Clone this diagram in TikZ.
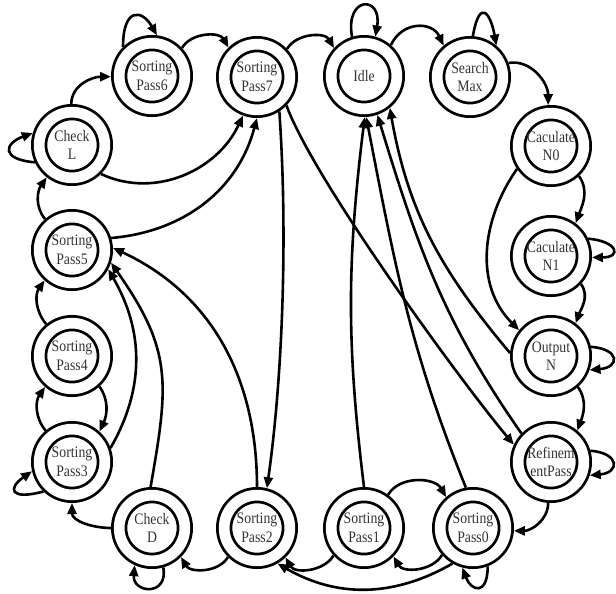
\documentclass[tikz,border=0pt]{standalone}
\usepackage{fontspec}
\setmainfont{Liberation Serif}[FakeStretch=0.86]
\usetikzlibrary{arrows.meta}
\tikzset{
  state/.style={circle, draw, line width=2.8pt, double, double distance=10.7pt,
    minimum size=65.7pt, inner sep=0pt, outer sep=8.15pt, align=center,
    font=\fontsize{16}{18.5}\selectfont, text=black!80},
  edge/.style={line width=2.6pt, -{Triangle[length=11pt,width=9pt]}}
}
\begin{document}
\begin{tikzpicture}[x=1pt,y=1pt]
\path[use as bounding box] (0,0) rectangle (616,-594);
\node[state] (chkl) at (72,-145) {Check\\L};
\node[state] (p6) at (152,-76) {Sorting\\Pass6};
\node[state] (p7) at (257,-77) {Sorting\\Pass7};
\node[state] (idle) at (364,-76) {Idle};
\node[state] (smax) at (470,-77) {Search\\Max};
\node[state] (n0) at (551,-146) {Caculate\\N0};
\node[state] (n1) at (551,-256) {Caculate\\N1};
\node[state] (outn) at (551,-356) {Output\\N};
\node[state] (ref) at (551,-462) {Refinem\\entPass};
\node[state] (p0) at (473,-528) {Sorting\\Pass0};
\node[state] (p1) at (364,-528) {Sorting\\Pass1};
\node[state] (p2) at (257,-528) {Sorting\\Pass2};
\node[state] (chkd) at (152,-528) {Check\\D};
\node[state] (p3) at (72,-462) {Sorting\\Pass3};
\node[state] (p4) at (72,-356) {Sorting\\Pass4};
\node[state] (p5) at (72,-250) {Sorting\\Pass5};

% self loops
\draw[edge] (p6.135) .. controls +(90:40) and +(120:30) .. (p6.83);
\draw[edge] (idle.107) .. controls +(100:42) and +(80:42) .. (idle.74);
\draw[edge] (smax.86) .. controls +(80:40) and +(100:32) .. (smax.50);
\draw[edge] (chkl.205) .. controls +(175:35) and +(200:30) .. (chkl.163);
\draw[edge] (p3.226) .. controls +(195:35) and +(215:30) .. (p3.193);
\draw[edge] (chkd.-74) .. controls +(-80:30) and +(-95:28) .. (chkd.-115);
\draw[edge] (p0.-69) .. controls +(-90:30) and +(-70:25) .. (p0.-105);
\draw[edge] (n1.25) .. controls +(-5:30) and +(0:30) .. (n1.-2);
\draw[edge] (outn.13) .. controls +(-5:30) and +(5:30) .. (outn.-20);
\draw[edge] (ref.16) .. controls +(-5:30) and +(5:30) .. (ref.-19);

% top row
\draw[edge] (chkl.91) to[out=90,in=180] (p6.181);
\draw[edge] (p6.43) to[out=60,in=120] (p7.134);
\draw[edge] (p7.43) to[out=60,in=120] (idle.137);
\draw[edge] (idle.49) to[out=65,in=115,looseness=1.3] (smax.130);
\draw[edge] (smax.20) to[out=10,in=90] (n0.94);

% right column
\draw[edge] (n0.-47) to[out=-55,in=70] (n1.53);
\draw[edge] (n1.-43) to[out=-55,in=70] (outn.53);
\draw[edge] (outn.-49) to[out=-55,in=70] (ref.50);
\draw[edge] (n0.214) to[out=235,in=135] (outn.141);
\draw[edge] (ref.266) to[out=-90,in=0] (p0.-4);

% bottom row
\draw[edge] (p0.221) to[out=-120,in=-60] (p1.-44);
\draw[edge] (p1.222) to[out=-120,in=-60] (p2.-46);
\draw[edge] (p2.225) to[out=-120,in=-60] (chkd.-45);
\draw[edge] (p0.-120) to[out=-150,in=-30] (p2.-60);
\draw[edge] (p1.54) to[out=60,in=120] (p0.131);
\draw[edge] (chkd.180) to[out=180,in=-90] (p3.-90);

% left column
\draw[edge] (p5.131) to[out=130,in=235] (chkl.232);
\draw[edge] (p4.129) to[out=130,in=235] (p5.228);
\draw[edge] (p3.130) to[out=130,in=235] (p4.229);
\draw[edge] (p4.-48) to[out=-55,in=65] (p3.48);

% long edges
\draw[edge] (p3.20) to[out=60,in=-60] (p5.-28);
\draw[edge] (chkd.92) to[out=80,in=-55,looseness=1.2] (p5.-18);
\draw[edge] (p2.90) to[out=90,in=-25] (p5.3);
\draw[edge] (p7.-57) to[out=-86,in=82,looseness=0.8] (p2.76);
\draw[edge] (p7.-44) to[out=-70,in=130,looseness=0.5] (ref.155);
\draw[edge] (chkl.-45) to[out=-25,in=-115] (p7.-110);
\draw[edge] (p5.17) to[out=5,in=-105] (p7.-90);
\draw[edge] (p1.90) to[out=97,in=-97] (idle.-89);
\draw[edge] (p0.100) to[out=112,in=-79] (idle.-87);
\draw[edge] (ref.136) to[out=125,in=-73] (idle.-71);
\draw[edge] (outn.176) to[out=130,in=-80] (idle.-51);
\end{tikzpicture}
\end{document}
